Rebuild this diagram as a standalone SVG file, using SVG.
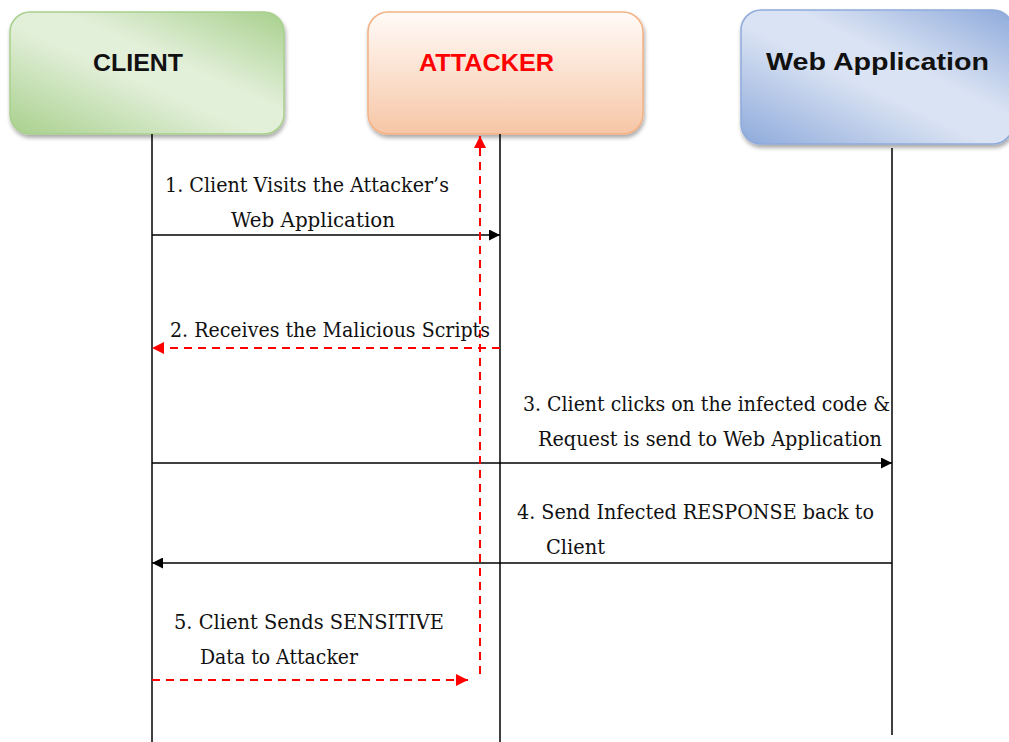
<svg xmlns="http://www.w3.org/2000/svg" width="1009" height="742" viewBox="0 0 1009 742">
  <style>
    .head { font-family: "Liberation Sans", Arial, sans-serif; font-weight: bold; font-size: 23px; }
    .life { stroke: #000; stroke-width: 1.5; fill: none; }
    .msg { stroke: #000; stroke-width: 1.5; fill: none; }
    .atk { stroke: #ff0000; stroke-width: 2; stroke-dasharray: 8 6; fill: none; }
  </style>
  <defs>
    <linearGradient id="gGreen" x1="0" y1="1" x2="1" y2="0">
      <stop offset="0" stop-color="#a8d08d"/>
      <stop offset="0.45" stop-color="#e2efd9"/>
      <stop offset="0.6" stop-color="#e2efd9"/>
      <stop offset="1" stop-color="#a8d08d"/>
    </linearGradient>
    <linearGradient id="gPeach" x1="0" y1="0" x2="0" y2="1">
      <stop offset="0" stop-color="#fffaf7"/>
      <stop offset="0.35" stop-color="#fde9dc"/>
      <stop offset="1" stop-color="#f6c6a6"/>
    </linearGradient>
    <linearGradient id="gBlue" x1="0" y1="1" x2="1" y2="0">
      <stop offset="0" stop-color="#8eaadb"/>
      <stop offset="0.45" stop-color="#dae3f3"/>
      <stop offset="0.6" stop-color="#dae3f3"/>
      <stop offset="1" stop-color="#8eaadb"/>
    </linearGradient>
    <filter id="shadow" x="-10%" y="-10%" width="125%" height="130%">
      <feGaussianBlur in="SourceAlpha" stdDeviation="2"/>
      <feOffset dx="1" dy="3"/>
      <feComponentTransfer><feFuncA type="linear" slope="0.35"/></feComponentTransfer>
      <feMerge><feMergeNode/><feMergeNode in="SourceGraphic"/></feMerge>
    </filter>
    <marker id="arrBlack" viewBox="0 0 10 10" refX="10" refY="5" markerWidth="11" markerHeight="11" markerUnits="userSpaceOnUse" orient="auto">
      <path d="M0,0 L10,5 L0,10 z" fill="#000"/>
    </marker>
    <marker id="arrRed" viewBox="0 0 10 10" refX="10" refY="5" markerWidth="12" markerHeight="12" markerUnits="userSpaceOnUse" orient="auto">
      <path d="M0,0 L10,5 L0,10 z" fill="#ff0000"/>
    </marker>
  </defs>

  <rect width="1009" height="742" fill="#fff"/>

  <!-- participants -->
  <g id="client">
    <rect x="10" y="12" width="274" height="122" rx="20" fill="url(#gGreen)" stroke="#a8d08d" stroke-width="1.5" filter="url(#shadow)"/>
    <text class="head" x="93" y="71" textLength="90" lengthAdjust="spacingAndGlyphs" fill="#111">CLIENT</text>
  </g>
  <g id="attacker">
    <rect x="368" y="12" width="275" height="122" rx="20" fill="url(#gPeach)" stroke="#f4b183" stroke-width="1.5" filter="url(#shadow)"/>
    <text class="head" x="419" y="71" textLength="135" lengthAdjust="spacingAndGlyphs" fill="#ff0000">ATTACKER</text>
  </g>
  <g id="webapp">
    <rect x="741" y="10" width="272" height="134" rx="20" fill="url(#gBlue)" stroke="#8eaadb" stroke-width="1.5" filter="url(#shadow)"/>
    <text class="head" x="766" y="70" textLength="223" lengthAdjust="spacingAndGlyphs" fill="#111">Web Application</text>
  </g>

  <!-- lifelines and messages -->
  <g id="connectors">
    <line class="life" x1="152" y1="134" x2="152" y2="742"/>
    <line class="life" x1="500" y1="134" x2="500" y2="742"/>
    <line class="life" x1="892" y1="148" x2="892" y2="735"/>

    <line class="msg" x1="152" y1="235" x2="500" y2="235" marker-end="url(#arrBlack)"/>
    <line class="atk" x1="500" y1="348" x2="152" y2="348" marker-end="url(#arrRed)"/>
    <line class="msg" x1="152" y1="463" x2="892" y2="463" marker-end="url(#arrBlack)"/>
    <line class="msg" x1="892" y1="563" x2="152" y2="563" marker-end="url(#arrBlack)"/>
    <line class="atk" x1="152" y1="680" x2="468" y2="680" marker-end="url(#arrRed)"/>
    <line class="atk" x1="480" y1="674" x2="480" y2="136" marker-end="url(#arrRed)"/>
  </g>

  <!-- message labels -->
  <g id="labels" font-family="'DejaVu Serif', 'Liberation Serif', serif" font-size="21" fill="#111">
    <text x="165" y="192" textLength="284" lengthAdjust="spacingAndGlyphs">1. Client Visits the Attacker’s</text>
    <text x="231" y="227" textLength="164" lengthAdjust="spacingAndGlyphs">Web Application</text>
    <text x="170" y="337" textLength="320" lengthAdjust="spacingAndGlyphs">2. Receives the Malicious Scripts</text>
    <text x="523" y="411" textLength="367" lengthAdjust="spacingAndGlyphs">3. Client clicks on the infected code &amp;</text>
    <text x="538" y="446" textLength="344" lengthAdjust="spacingAndGlyphs">Request is send to Web Application</text>
    <text x="517" y="519" textLength="357" lengthAdjust="spacingAndGlyphs">4. Send Infected RESPONSE back to</text>
    <text x="546" y="554" textLength="59" lengthAdjust="spacingAndGlyphs">Client</text>
    <text x="174" y="629" textLength="270" lengthAdjust="spacingAndGlyphs">5. Client Sends SENSITIVE</text>
    <text x="200" y="664" textLength="158" lengthAdjust="spacingAndGlyphs">Data to Attacker</text>
  </g>
</svg>
